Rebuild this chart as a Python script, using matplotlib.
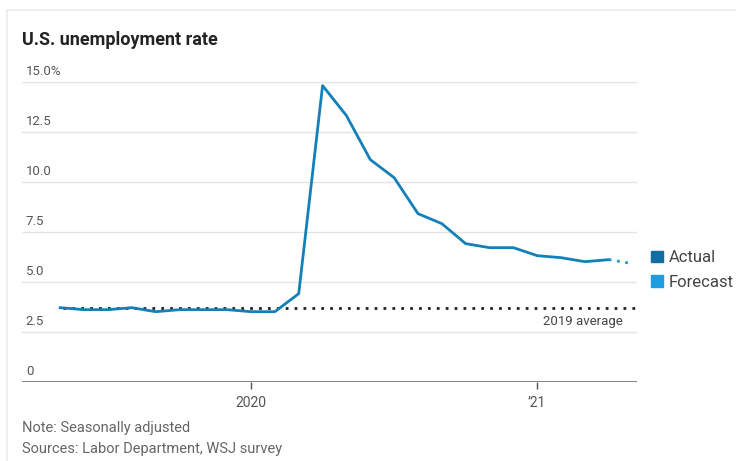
import matplotlib.pyplot as plt
import matplotlib.transforms as mtransforms
from matplotlib.patches import Patch, Rectangle

plt.rcParams['font.family'] = ['Liberation Sans Narrow', 'Roboto', 'DejaVu Sans']

# months counted from Jan 2020 = 0
months = list(range(-8, 16))
rate = [3.7, 3.6, 3.6, 3.7, 3.5, 3.6, 3.6, 3.6, 3.5, 3.5, 4.4, 14.8,
        13.3, 11.1, 10.2, 8.4, 7.9, 6.9, 6.7, 6.7, 6.3, 6.2, 6.0, 6.1]
forecast_months = [15, 16]
forecast_rate = [6.1, 5.9]
avg_2019 = 3.7

yticks = [0, 2.5, 5.0, 7.5, 10.0, 12.5, 15.0]
ytick_labels = ['0', '2.5', '5.0', '7.5', '10.0', '12.5', '15.0%']
xticks = [0, 12]
xtick_labels = ['2020', '\u201921']

actual_color = '#1380b8'
forecast_color = '#1a9ad8'
text_grey = '#555555'

fig = plt.figure(figsize=(7.36, 4.61), dpi=100)
fig.patches.append(Rectangle((0.0095, -0.01), 1.0, 0.988, transform=fig.transFigure,
                             fill=False, edgecolor='#ececec', linewidth=1.2))

ax = fig.add_axes([0.030, 0.172, 0.836, 0.651])
ax.set_xlim(-9.6, 16.2)
ax.set_ylim(0, 15)

# horizontal grid
for v in yticks[1:]:
    ax.axhline(v, color='#e4e4e4', linewidth=1, zorder=0)
ax.axhline(0, color='#7a7a7a', linewidth=1.3, zorder=1)

# 2019 average reference line
ax.plot([-7.9, 16.2], [avg_2019, avg_2019], color='#222222', linewidth=2,
        linestyle=(0, (1, 2.2)), zorder=2)
ax.text(15.6, avg_2019 - 0.35, '2019 average', ha='right', va='top',
        fontsize=9.5, color='#444444')

ax.plot(months, rate, color=actual_color, linewidth=2, zorder=3,
        solid_joinstyle='round')
ax.plot(forecast_months, forecast_rate, color=forecast_color, linewidth=2,
        linestyle=(0, (1, 2)), zorder=3)

# y labels sit just above their gridlines
trans = mtransforms.blended_transform_factory(ax.transAxes, ax.transData)
for v, lab in zip(yticks, ytick_labels):
    ax.text(0.006, v + 0.2, lab, transform=trans, ha='left', va='bottom',
            fontsize=9.5, color=text_grey)
ax.set_yticks([])

ax.set_xticks(xticks)
ax.set_xticklabels(xtick_labels, fontsize=10, color=text_grey)
ax.tick_params(axis='x', length=5, width=1, color='#555555', pad=5)

for s in ax.spines.values():
    s.set_visible(False)

fig.text(0.030, 0.913, 'U.S. unemployment rate', fontsize=13, fontweight='bold',
         color='#222222', ha='left', va='center')
fig.text(0.030, 0.071, 'Note: Seasonally adjusted', fontsize=10.5,
         color='#666666', ha='left', va='center')
fig.text(0.030, 0.025, 'Sources: Labor Department, WSJ survey', fontsize=10.5,
         color='#666666', ha='left', va='center')

handles = [Patch(color='#0f6fa3', label='Actual'),
           Patch(color='#1a9ee0', label='Forecast')]
fig.legend(handles=handles, loc='upper left', bbox_to_anchor=(0.880, 0.464),
           frameon=False, fontsize=12, handlelength=0.7, handleheight=0.7,
           handletextpad=0.35, labelspacing=0.55, labelcolor='#444444',
           borderaxespad=0.0, borderpad=0.2)

fig.savefig('out.png', dpi=100)
